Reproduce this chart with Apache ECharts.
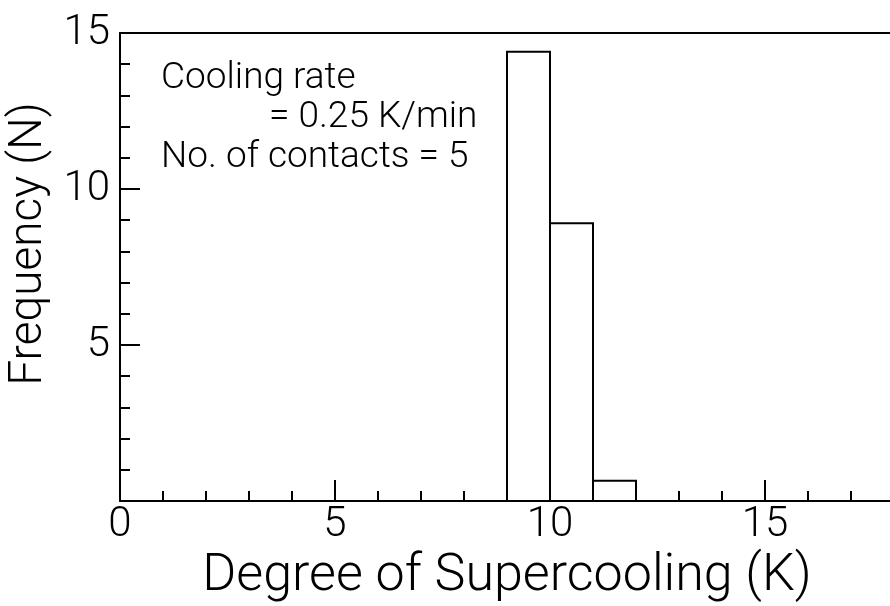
<!DOCTYPE html>
<html>
<head>
<meta charset="utf-8">
<script src="https://cdn.jsdelivr.net/npm/echarts@6/dist/echarts.min.js"></script>
<style>
html,body{margin:0;padding:0;background:#fff;}
#chart{width:890px;height:606px;}
</style>
</head>
<body>
<div id="chart"></div>
<script>
// Histogram bins (degree of supercooling, K) and frequencies (N)
const binStart = [9, 10, 11];
const binEnd = [10, 11, 12];
const frequency = [14.4, 8.9, 0.65];
const xTickLabels = [0, 5, 10, 15];
const yTickLabels = [5, 10, 15];
const annotationLines = ['Cooling rate', '= 0.25 K/min', 'No. of contacts = 5'];

const FONT = 'Roboto';
const W = 300;
const data = binStart.map((s, i) => [s, binEnd[i], frequency[i]]);

const chart = echarts.init(document.getElementById('chart'), null, {renderer: 'canvas'});
const lineStyle = {color: '#000', width: 2};

chart.setOption({
  animation: false,
  backgroundColor: '#fff',
  grid: {left: 120, top: 33, width: 774, height: 468, containLabel: false, outerBoundsMode: 'none'},
  xAxis: [
    {
      type: 'value', position: 'bottom', min: 0, max: 18, interval: 1,
      axisLine: {show: true, onZero: false, lineStyle},
      axisTick: {show: true, inside: true, length: 10, lineStyle},
      splitLine: {show: false},
      axisLabel: {
        show: true, margin: 3, color: '#000', fontFamily: FONT, fontWeight: W, fontSize: 42,
        formatter: v => xTickLabels.includes(v) ? String(v) : ''
      },
      name: 'Degree of Supercooling (K)', nameLocation: 'middle', nameGap: 38,
      nameTextStyle: {color: '#000', fontFamily: FONT, fontWeight: W, fontSize: 52}
    },
    {
      type: 'value', position: 'bottom', min: 0, max: 18, interval: 5,
      axisLine: {show: false, onZero: false},
      axisTick: {show: true, inside: true, length: 21, lineStyle},
      splitLine: {show: false}, axisLabel: {show: false}
    },
    {
      type: 'value', position: 'top', min: 0, max: 18, interval: 1,
      axisLine: {show: true, onZero: false, lineStyle},
      axisTick: {show: false}, splitLine: {show: false}, axisLabel: {show: false}
    }
  ],
  yAxis: [
    {
      type: 'value', position: 'left', min: 0, max: 15, interval: 1,
      axisLine: {show: true, onZero: false, lineStyle},
      axisTick: {show: true, inside: true, length: 10, lineStyle},
      splitLine: {show: false},
      axisLabel: {
        show: true, margin: 10, color: '#000', fontFamily: FONT, fontWeight: W, fontSize: 42,
        formatter: v => yTickLabels.includes(v) ? String(v) : ''
      },
      name: 'Frequency (N)', nameLocation: 'middle', nameGap: 58,
      nameTextStyle: {color: '#000', fontFamily: FONT, fontWeight: W, fontSize: 46, padding: [0, 0, 0, 46]}
    },
    {
      type: 'value', position: 'left', min: 0, max: 15, interval: 5,
      axisLine: {show: false, onZero: false},
      axisTick: {show: true, inside: true, length: 20, lineStyle},
      splitLine: {show: false}, axisLabel: {show: false}
    }
  ],
  series: [{
    type: 'custom',
    xAxisIndex: 0, yAxisIndex: 0,
    data: data,
    encode: {x: [0, 1], y: 2},
    renderItem: function (params, api) {
      const p0 = api.coord([api.value(0), api.value(2)]);
      const p1 = api.coord([api.value(1), 0]);
      return {
        type: 'rect',
        shape: {x: p0[0], y: p0[1], width: p1[0] - p0[0], height: p1[1] - p0[1]},
        style: {fill: '#fff', stroke: '#000', lineWidth: 2}
      };
    }
  }],
  graphic: [
    {type: 'text', left: 161, top: 60, style: {text: annotationLines[0], fill: '#000', font: W + ' 37px ' + FONT}},
    {type: 'text', left: 269, top: 99, style: {text: annotationLines[1], fill: '#000', font: W + ' 37px ' + FONT}},
    {type: 'text', left: 161, top: 139, style: {text: annotationLines[2], fill: '#000', font: W + ' 37px ' + FONT}}
  ]
});
</script>
</body>
</html>
